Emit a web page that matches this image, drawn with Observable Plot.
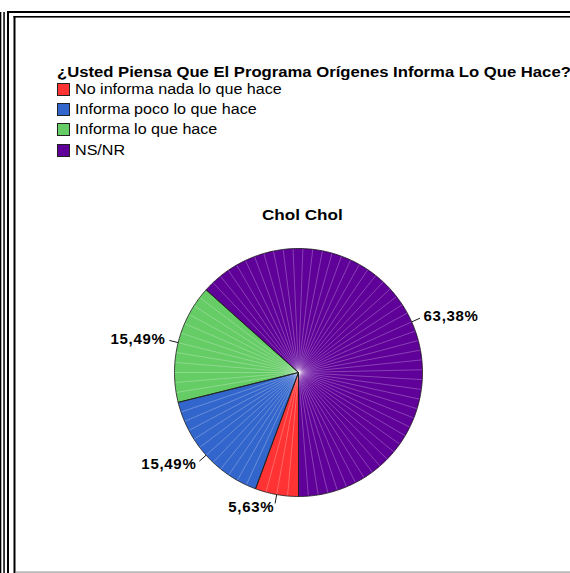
<!DOCTYPE html>
<html>
<head>
<meta charset="utf-8">
<script src="https://cdn.jsdelivr.net/npm/d3@7"></script>
<script src="https://cdn.jsdelivr.net/npm/@observablehq/plot@0.6"></script>
<style>
  html, body { margin: 0; padding: 0; background: #fff; }
  #wrap { position: relative; width: 570px; height: 573px; overflow: hidden; background: #fff;
          font-family: "Liberation Sans", Arial, sans-serif; color: #000; }
  .abs { position: absolute; white-space: nowrap; line-height: 16px; font-size: 14px; transform-origin: 0 0; }
  #title { left: 57px; top: 64px; font-weight: bold; transform: scaleX(1.19); }
  .leg { left: 75px; transform: scaleX(1.15); }
  .sw { position: absolute; left: 57px; width: 11px; height: 11px; border: 1px solid #222; }
  #ctitle { left: 262px; top: 207px; font-weight: bold; transform: scaleX(1.22); }
  #chart { position: absolute; left: 0; top: 170px; }
  #border { position: absolute; left: 0; top: 0; }
</style>
</head>
<body>
<div id="wrap">
  <div id="chart"></div>
  <div id="title" class="abs"></div>
  <div id="legend"></div>
  <div id="ctitle" class="abs"></div>
  <svg id="border" width="570" height="573">
    <rect x="0" y="12" width="1.3" height="561" fill="#000"/>
    <rect x="3.3" y="12" width="1.5" height="561" fill="#000"/>
    <rect x="7" y="11" width="2" height="562" fill="#000"/>
    <rect x="7" y="11" width="563" height="2" fill="#000"/>
    <rect x="13.5" y="16" width="2" height="557" fill="#000"/>
    <rect x="13.5" y="16" width="557" height="1.6" fill="#000"/>
    <rect x="15.5" y="571.5" width="555" height="1.2" fill="#999"/>
  </svg>
</div>
<script>
// ---- data ----
const questionTitle = "¿Usted Piensa Que El Programa Orígenes Informa Lo Que Hace?";
const chartTitle = "Chol Chol";
const categories = ["No informa nada lo que hace", "Informa poco lo que hace", "Informa lo que hace", "NS/NR"];
const counts = [4, 11, 11, 45];
const colors = ["#ff3333", "#3366cc", "#66cc66", "#5f0099"];

// ---- titles & legend ----
document.getElementById("title").textContent = questionTitle;
document.getElementById("ctitle").textContent = chartTitle;
const legend = document.getElementById("legend");
categories.forEach((c, i) => {
  const sw = document.createElement("div");
  sw.className = "sw";
  sw.style.top = (82.5 + i * 20.4) + "px";
  sw.style.background = colors[i];
  legend.appendChild(sw);
  const t = document.createElement("div");
  t.className = "abs leg";
  t.style.top = (80.6 + i * 20.4) + "px";
  t.textContent = c;
  legend.appendChild(t);
});

// ---- pie geometry ----
const R = 124;
const total = d3.sum(counts);
const arcs = d3.pie().sort(null).startAngle(Math.PI).endAngle(3 * Math.PI)(counts);
const fmt = v => (v / total * 100).toFixed(2).replace(".", ",") + "%";

const slices = arcs.map((a, i) => {
  const n = Math.max(2, Math.ceil((a.endAngle - a.startAngle) / (Math.PI / 180)));
  const pts = [{x: 0, y: 0}];
  for (let k = 0; k <= n; k++) {
    const t = a.startAngle + (a.endAngle - a.startAngle) * k / n;
    pts.push({x: Math.sin(t) * R, y: Math.cos(t) * R});
  }
  pts.push({x: 0, y: 0});
  return pts;
});

const rays = [];
arcs.forEach(a => {
  const span = a.endAngle - a.startAngle;
  const n = Math.round(span / (4.6 * Math.PI / 180));
  for (let k = 1; k < n; k++) rays.push({t: a.startAngle + span * k / n});
});

const labels = arcs.map((a, i) => {
  const m = (a.startAngle + a.endAngle) / 2;
  return {m, text: fmt(counts[i]), right: Math.sin(m) > 0};
});

const W = 570, H = 403, cx = 298, cy = 202;
const plot = Plot.plot({
  width: W, height: H,
  margin: 0,
  x: {domain: [-cx, W - cx], range: [0, W], axis: null},
  y: {domain: [-(H - cy), cy], range: [H, 0], axis: null},
  style: {fontFamily: "'Liberation Sans', Arial, sans-serif", letterSpacing: "0.7px", background: "transparent"},
  marks: [
    ...slices.map((pts, i) => Plot.line(pts, {x: "x", y: "y", fill: colors[i], stroke: "none"})),
    Plot.link(rays, {x1: () => 0, y1: () => 0, x2: d => Math.sin(d.t) * R, y2: d => Math.cos(d.t) * R,
      stroke: "#ffffff", strokeOpacity: 0.32, strokeWidth: 0.8}),
    ...slices.map((pts, i) => Plot.line(pts, {x: "x", y: "y", stroke: "#1a1a1a", strokeWidth: 0.8, strokeLinejoin: "round"})),
    Plot.link(labels, {x1: d => Math.sin(d.m) * R, y1: d => Math.cos(d.m) * R,
      x2: d => Math.sin(d.m) * (R + 9), y2: d => Math.cos(d.m) * (R + 9), stroke: "#000", strokeWidth: 0.9}),
    Plot.text(labels.filter(d => d.right), {x: d => Math.sin(d.m) * (R + 13), y: d => Math.cos(d.m) * (R + 13),
      text: "text", textAnchor: "start", fontSize: 15, fontWeight: "bold", fill: "#000"}),
    Plot.text(labels.filter(d => !d.right), {x: d => Math.sin(d.m) * (R + 13), y: d => Math.cos(d.m) * (R + 13),
      text: "text", textAnchor: "end", fontSize: 15, fontWeight: "bold", fill: "#000"})
  ]
});
document.getElementById("chart").appendChild(plot);
</script>
</body>
</html>
